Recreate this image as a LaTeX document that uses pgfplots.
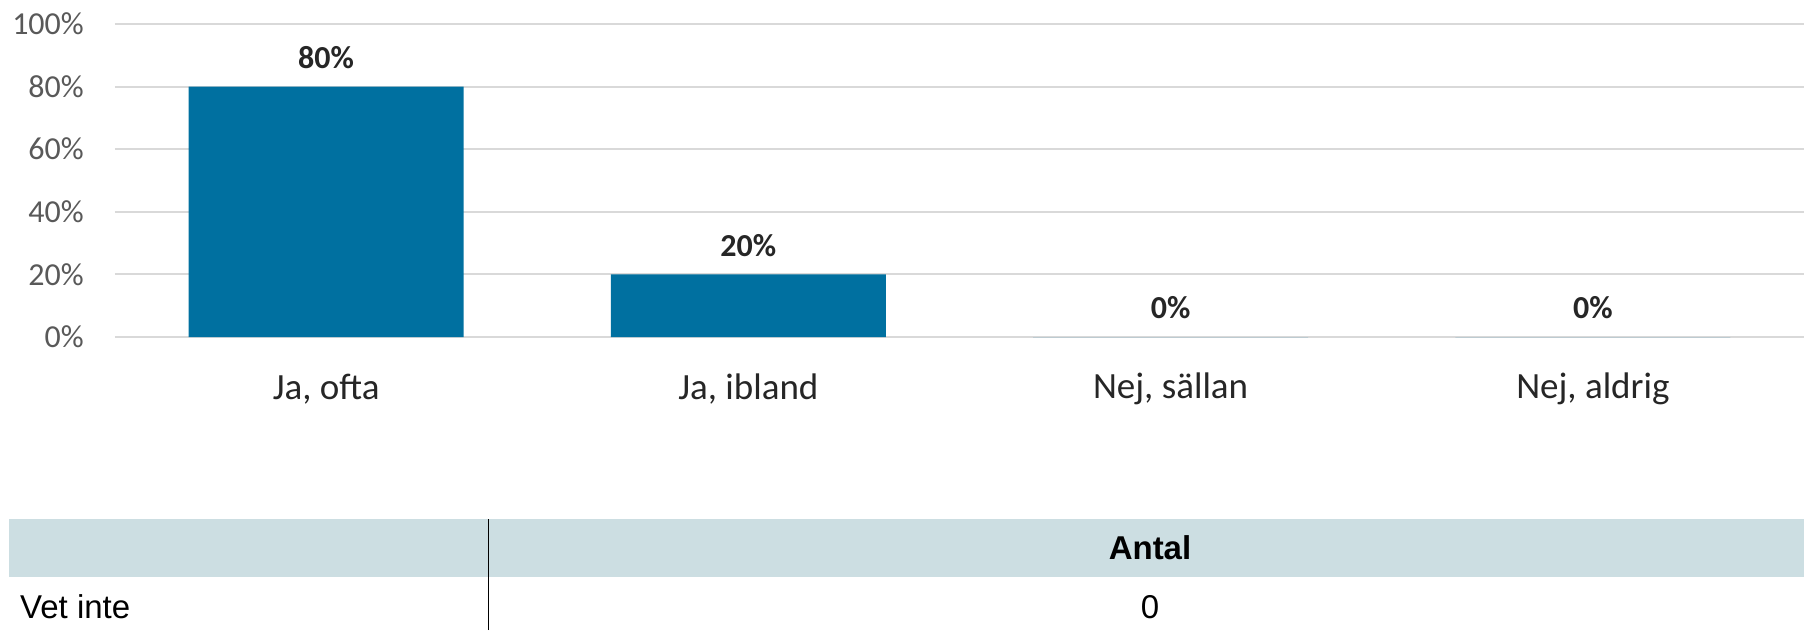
\documentclass[border=0pt]{standalone}
\usepackage{fontspec}
\setmainfont{Carlito}
\newfontfamily\tablefont{Liberation Sans}
\usepackage{pgfplots}
\pgfplotsset{compat=1.18}
\definecolor{barblue}{RGB}{0,112,160}
\definecolor{gridgray}{RGB}{217,217,217}
\definecolor{ticktext}{RGB}{89,89,89}
\definecolor{labeltext}{RGB}{38,38,38}
\definecolor{headfill}{RGB}{204,222,226}
\begin{document}
\begin{tikzpicture}[x=1pt,y=1pt]
\path[use as bounding box] (0,0) rectangle (1804,630);
\begin{axis}[
  at={(115pt,293pt)}, anchor=south west, scale only axis,
  width=1689pt, height=313pt,
  xmin=-0.5, xmax=3.5, ymin=0, ymax=100,
  axis line style={draw=none},
  tick style={draw=none},
  ymajorgrids, grid style={draw=gridgray, line width=2pt},
  ytick={0,20,40,60,80,100},
  yticklabels={0\%,20\%,40\%,60\%,80\%,100\%},
  yticklabel style={font=\fontsize{32}{38}\selectfont, text=ticktext, anchor=east, inner sep=0pt, xshift=-31pt},
  xtick={0,1,2,3},
  xticklabels={{Ja, ofta},{Ja, ibland},{Nej, sällan},{Nej, aldrig}},
  xticklabel style={font=\fontsize{37}{44}\selectfont, text=labeltext, anchor=center, inner sep=0pt, yshift=-48pt},
  clip=false,
  ybar, bar width=275pt,
  nodes near coords={\pgfmathprintnumber[assume math mode=true]{\pgfplotspointmeta}\%},
  nodes near coords style={font=\fontsize{32}{38}\selectfont\bfseries, text=labeltext, anchor=center, yshift=29pt},
]
\addplot[fill=barblue, draw=none] coordinates {(0,80) (1,20) (2,0) (3,0)};
\end{axis}
% table
\fill[headfill] (9,53) rectangle (1804,111);
\draw[black, line width=1pt] (488,0) -- (488,111);
\node[font=\tablefont\fontsize{33}{40}\selectfont\bfseries, anchor=base, inner sep=0pt] at (1150,71) {Antal};
\node[font=\tablefont\fontsize{33}{40}\selectfont, anchor=base west, inner sep=0pt] at (20,12) {Vet inte};
\node[font=\tablefont\fontsize{33}{40}\selectfont, anchor=base, inner sep=0pt] at (1150,12) {0};
\end{tikzpicture}
\end{document}
